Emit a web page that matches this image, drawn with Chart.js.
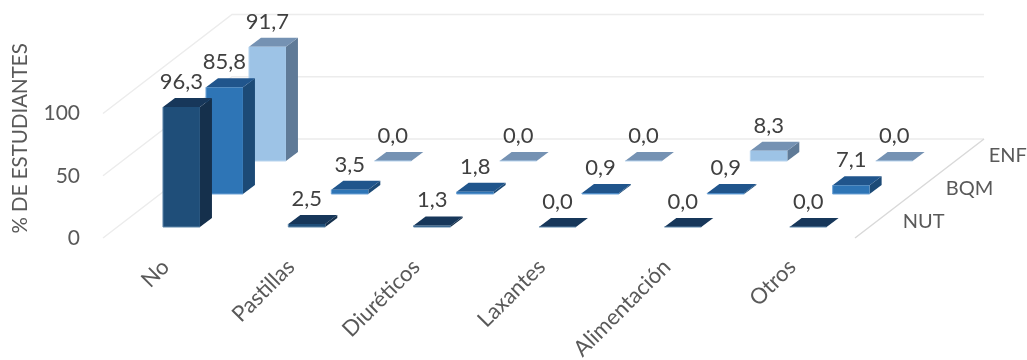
<!DOCTYPE html>
<html lang="es">
<head>
    <meta charset="UTF-8">
    <title>% de estudiantes</title>
    <script src="https://cdn.jsdelivr.net/npm/chart.js"></script>
    <style>
        body { margin: 0; background: #fff; }
    </style>
</head>
<body>
    <canvas id="barChart" width="1027" height="360"></canvas>

    <script>
        const categories = ['No', 'Pastillas', 'Diuréticos', 'Laxantes', 'Alimentación', 'Otros'];
        const seriesNames = ['NUT', 'BQM', 'ENF'];
        const nutValues = [96.3, 2.5, 1.3, 0.0, 0.0, 0.0];
        const bqmValues = [85.8, 3.5, 1.8, 0.9, 0.9, 7.1];
        const enfValues = [91.7, 0.0, 0.0, 0.0, 8.3, 0.0];
        const yTicks = [0, 50, 100];

        const frontColors = ['#1f4e79', '#2e75b6', '#9dc3e6'];
        const topColors = ['#17375a', '#20558c', '#7592b3'];
        const sideColors = ['#15304c', '#1c4a76', '#5f7a97'];
        const edgeColors = ['#5f87aa', '#6fa3d6', '#b8d4ee'];

        // oblique projection: one row back, and the depth of one bar
        const rowX = 43, rowY = -33;
        const barX = 12, barY = -9;
        const firstX = 15.8, firstY = -11;
        const fontName = 'Lato, sans-serif';

        function rowShift(i) {
            return { x: firstX + rowX * i, y: firstY + rowY * i };
        }

        const box3d = {
            id: 'box3d',
            beforeDatasetsDraw(chart) {
                // side wall and back wall lines, then the right floor edge
                const { ctx, chartArea, scales } = chart;
                const backX = rowX * seriesNames.length;
                const backY = rowY * seriesNames.length;
                ctx.save();
                ctx.strokeStyle = '#ececec';
                ctx.lineWidth = 1.5;
                yTicks.forEach(v => {
                    const y = scales.y.getPixelForValue(v);
                    ctx.beginPath();
                    ctx.moveTo(chartArea.left, y);
                    ctx.lineTo(chartArea.left + backX, y + backY);
                    ctx.lineTo(chartArea.right + backX, y + backY);
                    ctx.stroke();
                });
                const floorY = scales.y.getPixelForValue(0);
                ctx.strokeStyle = '#d9d9d9';
                ctx.beginPath();
                ctx.moveTo(chartArea.right, floorY);
                ctx.lineTo(chartArea.right + backX, floorY + backY);
                ctx.stroke();
                ctx.restore();
            },
            beforeDatasetDraw(chart, args) {
                const { ctx } = chart;
                const i = args.index;
                const shift = rowShift(i);
                ctx.save();
                ctx.translate(shift.x, shift.y);
                args.meta.data.forEach(bar => {
                    const left = bar.x - bar.width / 2;
                    const right = bar.x + bar.width / 2;
                    ctx.fillStyle = sideColors[i];
                    ctx.beginPath();
                    ctx.moveTo(right, bar.y);
                    ctx.lineTo(right + barX, bar.y + barY);
                    ctx.lineTo(right + barX, bar.base + barY);
                    ctx.lineTo(right, bar.base);
                    ctx.closePath();
                    ctx.fill();
                    ctx.fillStyle = topColors[i];
                    ctx.beginPath();
                    ctx.moveTo(left, bar.y);
                    ctx.lineTo(left + barX, bar.y + barY);
                    ctx.lineTo(right + barX, bar.y + barY);
                    ctx.lineTo(right, bar.y);
                    ctx.closePath();
                    ctx.fill();
                });
            },
            afterDatasetDraw(chart, args) {
                const { ctx } = chart;
                ctx.strokeStyle = edgeColors[args.index];
                ctx.lineWidth = 1;
                args.meta.data.forEach(bar => {
                    const left = bar.x - bar.width / 2;
                    const right = bar.x + bar.width / 2;
                    ctx.beginPath();
                    ctx.moveTo(left, bar.y);
                    ctx.lineTo(left, bar.base);
                    ctx.lineTo(right, bar.base);
                    ctx.stroke();
                });
                ctx.restore();
            },
            afterDatasetsDraw(chart) {
                const { ctx, chartArea, scales } = chart;
                ctx.save();
                ctx.textAlign = 'center';
                ctx.textBaseline = 'middle';
                ctx.font = '22px ' + fontName;
                ctx.fillStyle = '#404040';
                chart.data.datasets.forEach((ds, i) => {
                    const shift = rowShift(i);
                    chart.getDatasetMeta(i).data.forEach((bar, j) => {
                        const text = ds.data[j].toFixed(1).replace('.', ',');
                        ctx.fillText(text, bar.x + shift.x, bar.y + shift.y - 25);
                    });
                });

                // row names along the right floor edge
                ctx.textAlign = 'left';
                ctx.font = '20px ' + fontName;
                ctx.fillStyle = '#595959';
                const floorY = scales.y.getPixelForValue(0);
                seriesNames.forEach((name, i) => {
                    const shift = rowShift(i);
                    ctx.fillText(name, chartArea.right + shift.x + 32, floorY + shift.y - 5);
                });
                ctx.restore();
            }
        };

        const datasets = [nutValues, bqmValues, enfValues].map((values, i) => ({
            label: seriesNames[i],
            data: values,
            backgroundColor: frontColors[i],
            borderWidth: 0,
            grouped: false,
            categoryPercentage: 1,
            barPercentage: 0.295,
            clip: false
        }));

        new Chart(document.getElementById('barChart'), {
            type: 'bar',
            data: { labels: categories, datasets: datasets },
            plugins: [box3d],
            options: {
                responsive: false,
                animation: false,
                layout: { padding: { top: 38.8, right: 172, bottom: 0, left: 0 } },
                plugins: {
                    legend: { display: false },
                    tooltip: { enabled: false }
                },
                scales: {
                    x: {
                        afterFit(scale) { scale.height = 122; },
                        grid: { display: false },
                        border: { display: false },
                        ticks: {
                            autoSkip: false,
                            minRotation: 45,
                            maxRotation: 45,
                            padding: 8,
                            color: '#595959',
                            font: { family: fontName, size: 22 }
                        }
                    },
                    y: {
                        min: 0,
                        max: 160,
                        afterFit(scale) { scale.width = 103; },
                        afterBuildTicks(scale) {
                            scale.ticks = yTicks.map(v => ({ value: v }));
                        },
                        grid: { display: false },
                        border: { display: false },
                        title: {
                            display: true,
                            text: '% DE ESTUDIANTES',
                            color: '#595959',
                            font: { family: fontName, size: 20.5 },
                            padding: { top: 8, bottom: 0 }
                        },
                        ticks: {
                            padding: 15,
                            color: '#595959',
                            font: { family: fontName, size: 21 }
                        }
                    }
                }
            }
        });
    </script>
</body>
</html>
